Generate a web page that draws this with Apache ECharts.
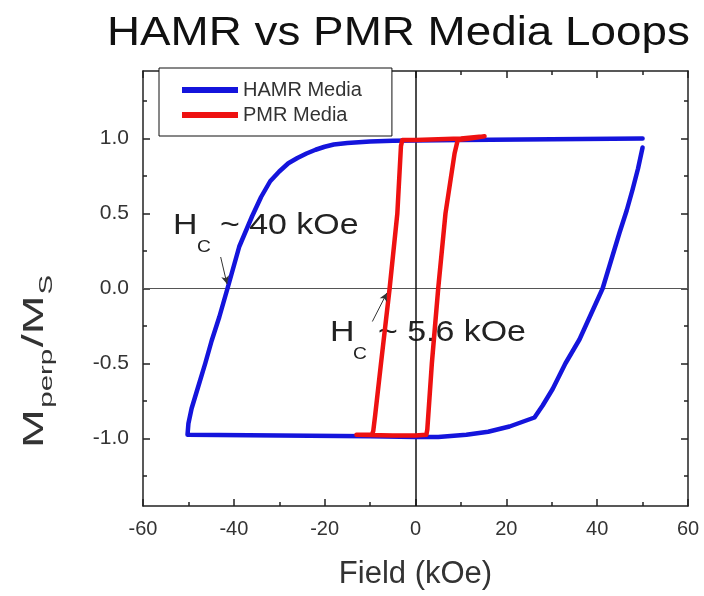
<!DOCTYPE html>
<html>
<head>
<meta charset="utf-8">
<script src="https://cdn.jsdelivr.net/npm/echarts@6/dist/echarts.min.js"></script>
<style>
  html, body { margin: 0; padding: 0; background: #ffffff; }
  #chart { width: 704px; height: 596px; }
</style>
</head>
<body>
<div id="chart"></div>
<script>
// Hysteresis loops: normalised perpendicular magnetisation vs applied field (kOe)
const hamrField = [50, 30, 10, -5, -10, -15, -18, -20, -22, -24, -26, -28, -30, -32, -34, -36, -38.8, -41.4,
  -43.2, -44.9, -46.3, -47.9, -49.3, -50.0, -50.2, -30, -10, 0, 5, 11.2, 16, 20.7, 26.2,
  28, 30.2, 33, 36.1, 38.5, 41.2, 43, 44.9, 46.5, 47.8, 49, 50];
const hamrM = [1.0, 0.995, 0.99, 0.985, 0.98, 0.97, 0.96, 0.945, 0.925, 0.9, 0.87, 0.835, 0.78, 0.715, 0.61, 0.48, 0.28, 0.0,
  -0.19, -0.35, -0.5, -0.66, -0.8, -0.9, -0.975, -0.98, -0.985, -0.99, -0.99, -0.975, -0.955, -0.92, -0.86,
  -0.78, -0.67, -0.5, -0.34, -0.18, 0.0, 0.18, 0.37, 0.52, 0.66, 0.8, 0.94];

const pmrField = [15.2, 10, 5, 0, -2.9, -3.2, -4.0, -5.7, -7.6, -8.9, -9.3, -9.6, -13, -5, 0, 2.4,
  2.6, 3.6, 5.0, 6.6, 8.6, 9.3, 12, 15.2];
const pmrM = [1.015, 1.0, 0.995, 0.99, 0.99, 0.95, 0.5, 0.0, -0.5, -0.85, -0.95, -0.975, -0.975, -0.98, -0.98, -0.975,
  -0.94, -0.5, 0.0, 0.5, 0.9, 0.99, 1.0, 1.015];

const seriesNames = ['HAMR Media', 'PMR Media'];
const seriesColors = ['#1414dc', '#ee1111'];

const xTickValues = [-60, -40, -20, 0, 20, 40, 60];
const yMajorTicks = [-1.0, -0.5, 0.0, 0.5, 1.0];
const yMinorTicks = [-1.25, -0.75, -0.25, 0.25, 0.75, 1.25];

const titleText = 'HAMR vs PMR Media Loops';
const xAxisTitle = 'Field (kOe)';
const hcLabels = ['40 kOe', '5.6 kOe'];

const FONT = '"Liberation Sans", Arial, Helvetica, sans-serif';
const AX = '#222222';

const zip = (xs, ys) => xs.map((x, i) => [x, ys[i]]);

const xMin = xTickValues[0], xMax = xTickValues[xTickValues.length - 1];
const xStep = xTickValues[1] - xTickValues[0];
const yMin = -1.45, yMax = 1.45;

function xAxisDef(position, showLabel) {
  return {
    type: 'value', position: position, min: xMin, max: xMax, interval: xStep,
    axisLine: { show: true, onZero: false, lineStyle: { color: AX, width: 1.5 } },
    axisTick: { show: true, inside: true, length: 7, lineStyle: { color: AX, width: 1.5 } },
    minorTick: { show: true, splitNumber: 2, length: 4, lineStyle: { color: AX, width: 1.5 } },
    axisLabel: { show: showLabel, fontSize: 20, color: '#333', fontFamily: FONT, margin: 13 },
    splitLine: { show: false },
    name: showLabel ? xAxisTitle : '',
    nameLocation: 'middle', nameGap: 53,
    nameTextStyle: { fontSize: 31, color: '#333', fontFamily: FONT }
  };
}

function yAxisDef(position, ticks, len, showLabel, showLine) {
  return {
    type: 'value', position: position, min: yMin, max: yMax,
    axisLine: { show: showLine, onZero: false, lineStyle: { color: AX, width: 1.5 } },
    axisTick: { show: true, inside: true, length: len, customValues: ticks, lineStyle: { color: AX, width: 1.5 } },
    axisLabel: {
      show: showLabel, customValues: yMajorTicks, fontSize: 21, color: '#333', fontFamily: FONT, margin: 14,
      formatter: v => Number(v).toFixed(1)
    },
    splitLine: { show: false }
  };
}

const chart = echarts.init(document.getElementById('chart'), null, { renderer: 'canvas' });

// scaled text helper for callouts and headings
function txt(text, x, y, size, sx, color) {
  return {
    type: 'text', x: x, y: y, scaleX: sx,
    style: { text: text, font: size + 'px ' + FONT, fill: color || '#222', textAlign: 'left', textVerticalAlign: 'middle' }
  };
}

chart.setOption({
  animation: false,
  backgroundColor: '#ffffff',
  grid: { left: 143, right: 16, top: 71, bottom: 90, show: false },
  legend: {
    left: 159, top: 68, orient: 'vertical',
    padding: [12, 30, 11, 23],
    itemGap: 5, itemWidth: 56, itemHeight: 6, icon: 'rect',
    borderColor: '#111', borderWidth: 1, backgroundColor: '#ffffff',
    textStyle: { fontSize: 20, color: '#333', fontFamily: FONT, lineHeight: 20 },
    data: seriesNames
  },
  xAxis: [xAxisDef('bottom', true), xAxisDef('top', false)],
  yAxis: [
    yAxisDef('left', yMajorTicks, 7, true, true),
    yAxisDef('right', yMajorTicks, 7, false, true),
    yAxisDef('left', yMinorTicks, 4, false, false),
    yAxisDef('right', yMinorTicks, 4, false, false)
  ],
  series: [
    {
      name: seriesNames[0], type: 'line', data: zip(hamrField, hamrM),
      showSymbol: false, symbol: 'none', color: seriesColors[0],
      lineStyle: { width: 4.5, color: seriesColors[0], join: 'round', cap: 'round' },
      xAxisIndex: 0, yAxisIndex: 0, z: 3,
      markLine: {
        silent: true, symbol: 'none', label: { show: false }, z: 1,
        data: [
          { yAxis: 0, lineStyle: { color: '#555', width: 1, type: 'solid' } },
          { xAxis: 0, lineStyle: { color: '#111', width: 1.5, type: 'solid' } }
        ]
      }
    },
    {
      name: seriesNames[1], type: 'line', data: zip(pmrField, pmrM),
      showSymbol: false, symbol: 'none', color: seriesColors[1],
      lineStyle: { width: 4.5, color: seriesColors[1], join: 'round', cap: 'round' },
      xAxisIndex: 0, yAxisIndex: 0, z: 4,
      markLine: {
        silent: true, symbol: ['none', 'arrow'], symbolSize: [6, 8], label: { show: false },
        lineStyle: { color: '#333', width: 1, type: 'solid' },
        data: [
          [{ coord: [-42.9, 0.21] }, { coord: [-41.5, 0.03] }],
          [{ coord: [-9.5, -0.22] }, { coord: [-6.3, -0.03] }]
        ]
      }
    }
  ],
  graphic: [
    txt(titleText, 107, 34, 40, 1.145, '#111'),
    // coercivity callouts
    txt('H', 173, 226, 30, 1.13),
    txt('C', 197, 247, 17, 1.13),
    txt('~ ' + hcLabels[0], 220, 226, 30, 1.13),
    txt('H', 330, 333, 30, 1.13),
    txt('C', 353, 354, 17, 1.13),
    txt('~ ' + hcLabels[1], 378, 333, 30, 1.13),
    // vertical axis title M_perp / M_S, read bottom to top
    {
      type: 'group', x: 35, y: 448, rotation: Math.PI / 2, scaleX: 1.55,
      children: [
        { type: 'text', x: 0, y: 0, style: { text: 'M', font: '30px ' + FONT, fill: '#333', textAlign: 'left', textVerticalAlign: 'middle' } },
        { type: 'text', x: 26, y: 12, style: { text: 'perp', font: '19px ' + FONT, fill: '#333', textAlign: 'left', textVerticalAlign: 'middle' } },
        { type: 'text', x: 65, y: 0, style: { text: '/M', font: '30px ' + FONT, fill: '#333', textAlign: 'left', textVerticalAlign: 'middle' } },
        { type: 'text', x: 99, y: 12, style: { text: 'S', font: '19px ' + FONT, fill: '#333', textAlign: 'left', textVerticalAlign: 'middle' } }
      ]
    }
  ]
});
</script>
</body>
</html>
